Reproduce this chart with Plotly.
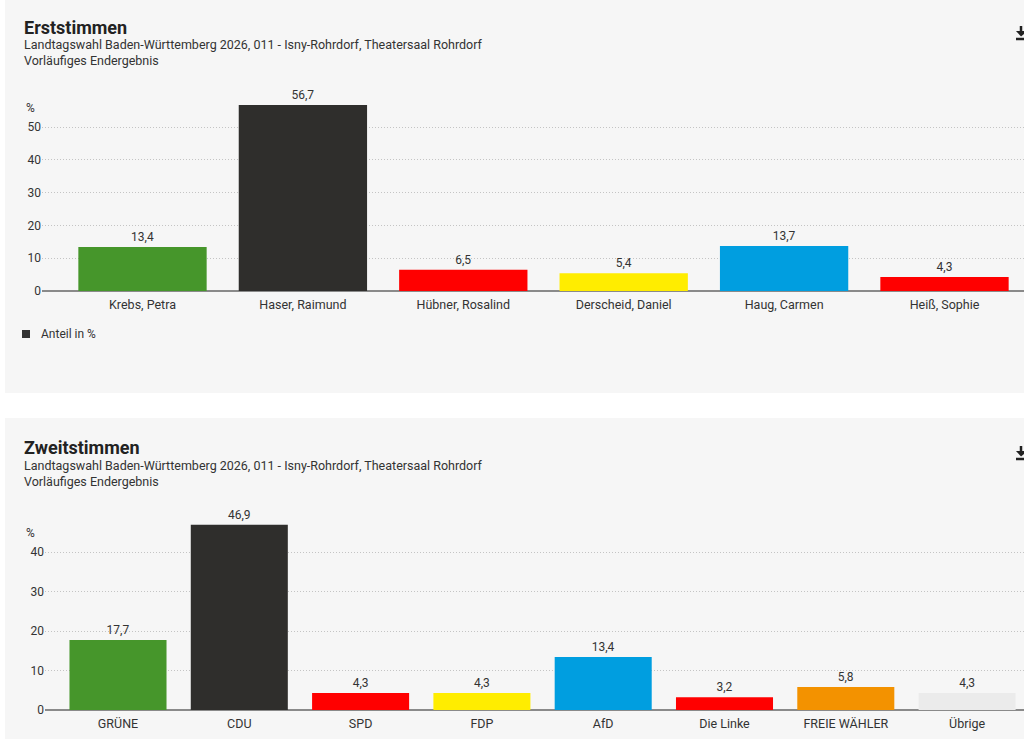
import plotly.graph_objects as go

# Erststimmen
kandidaten = ["Krebs, Petra", "Haser, Raimund", "Hübner, Rosalind", "Derscheid, Daniel", "Haug, Carmen", "Heiß, Sophie"]
erst_werte = [13.4, 56.7, 6.5, 5.4, 13.7, 4.3]
erst_farben = ["#46962b", "#2f2e2c", "#ff0000", "#ffed00", "#009ee0", "#ff0000"]

# Zweitstimmen
parteien = ["GRÜNE", "CDU", "SPD", "FDP", "AfD", "Die Linke", "FREIE WÄHLER", "Übrige"]
zweit_werte = [17.7, 46.9, 4.3, 4.3, 13.4, 3.2, 5.8, 4.3]
zweit_farben = ["#46962b", "#2f2e2c", "#ff0000", "#ffed00", "#009ee0", "#ff0000", "#f39200", "#ebebeb"]

untertitel = "Landtagswahl Baden-Württemberg 2026, 011 - Isny-Rohrdorf, Theatersaal Rohrdorf"
status = "Vorläufiges Endergebnis"

# Koordinaten unten sind Pixel des Screenshots (1024x739); die Figur selbst
# wird so hoch wie der tatsaechliche Viewport gemacht
W, H = 1024, 739
FIG_H = 746
FONT = "Roboto"
CARD = "#f6f6f6"
TXT = "#333333"


def px(x):
    return min(x, W) / W


def py(y):
    return 1 - y / H


def fmt(v):
    return f"{v:.1f}".replace(".", ",")


fig = go.Figure()

fig.add_trace(go.Bar(
    x=list(range(len(kandidaten))), y=erst_werte, name="Anteil in %",
    marker=dict(color=erst_farben, line=dict(width=0)),
    text=[fmt(v) for v in erst_werte], textposition="outside",
    textfont=dict(size=12, color=TXT, family=FONT),
    cliponaxis=False, showlegend=False, hoverinfo="skip",
    xaxis="x", yaxis="y",
))
fig.add_trace(go.Bar(
    x=list(range(len(parteien))), y=zweit_werte, name="Anteil in %",
    marker=dict(color=zweit_farben, line=dict(width=0)),
    text=[fmt(v) for v in zweit_werte], textposition="outside",
    textfont=dict(size=12, color=TXT, family=FONT),
    cliponaxis=False, showlegend=False, hoverinfo="skip",
    xaxis="x2", yaxis="y2",
))

# Achsen: Pixelgeometrie aus dem Screenshot
# Chart 1: Basislinie y=291, 3.28 px je Prozentpunkt, Balkenabstand 160.4 px
b1, s1, yr1 = 291, 3.28, 60
x1l, step1, c1 = 42, 160.4, 142.5
a1 = -(c1 - x1l) / step1
e1 = a1 + (W - x1l) / step1
# Chart 2: Basislinie y=710, 3.95 px je Prozentpunkt, Abstand 121.3 px
b2, s2, yr2 = 710, 3.95, 50
x2l, step2, c2 = 45, 121.3, 118
a2 = -(c2 - x2l) / step2
e2 = a2 + (W - x2l) / step2

achse_y = dict(showgrid=True, gridcolor="#c4c4c4", griddash="1px,2px", gridwidth=1,
               zeroline=True, zerolinecolor="#8a8a8a", zerolinewidth=2,
               showline=False, ticks="", tickfont=dict(size=12, color=TXT, family=FONT),
               fixedrange=True)
achse_x = dict(showgrid=False, zeroline=False, showline=False, ticks="",
               ticklabelstandoff=4,
               tickfont=dict(size=12.5, color=TXT, family=FONT), fixedrange=True)

fig.update_layout(
    width=W, height=FIG_H, margin=dict(l=0, r=0, t=0, b=0),
    paper_bgcolor="white", plot_bgcolor="rgba(0,0,0,0)",
    font=dict(family=FONT, color=TXT),
    bargap=0.2, showlegend=False,
    xaxis=dict(achse_x, domain=[px(x1l), 1], range=[a1, e1], anchor="y",
               tickvals=list(range(len(kandidaten))), ticktext=kandidaten),
    yaxis=dict(achse_y, domain=[py(b1), py(b1 - yr1 * s1)], range=[0, yr1], anchor="x",
               tickvals=[0, 10, 20, 30, 40, 50]),
    xaxis2=dict(achse_x, domain=[px(x2l), 1], range=[a2, e2], anchor="y2",
                tickvals=list(range(len(parteien))), ticktext=parteien),
    yaxis2=dict(achse_y, domain=[py(b2), py(b2 - yr2 * s2)], range=[0, yr2], anchor="x2",
                tickvals=[0, 10, 20, 30, 40]),
)

# Karten-Hintergruende (innerhalb der Papierflaeche halten)
fig.add_shape(type="rect", xref="paper", yref="paper", x0=px(5), x1=1, y0=py(393), y1=1,
              fillcolor=CARD, line=dict(width=0), layer="below")
fig.add_shape(type="rect", xref="paper", yref="paper", x0=px(5), x1=1, y0=0, y1=py(418),
              fillcolor=CARD, line=dict(width=0), layer="below")

# Legende "Anteil in %"
fig.add_shape(type="rect", xref="paper", yref="paper", x0=px(22), x1=px(30), y0=py(338), y1=py(330),
              fillcolor="#333333", line=dict(width=0))
fig.add_annotation(text="Anteil in %", xref="paper", yref="paper", x=px(39), y=py(334),
                   xanchor="left", yanchor="middle", showarrow=False,
                   font=dict(size=12, color=TXT, family=FONT))

# Titel und Untertitel
for titel, y0 in [("Erststimmen", 27), ("Zweitstimmen", 447)]:
    fig.add_annotation(text=f"<b>{titel}</b>", xref="paper", yref="paper", x=px(22), y=py(y0),
                       xanchor="left", yanchor="middle", showarrow=False,
                       font=dict(size=18, color="#222222", family=FONT))
    fig.add_annotation(text=untertitel, xref="paper", yref="paper", x=px(22), y=py(y0 + 18),
                       xanchor="left", yanchor="middle", showarrow=False,
                       font=dict(size=12.5, color=TXT, family=FONT))
    fig.add_annotation(text=status, xref="paper", yref="paper", x=px(22), y=py(y0 + 34),
                       xanchor="left", yanchor="middle", showarrow=False,
                       font=dict(size=12.5, color=TXT, family=FONT))

# "%" ueber der y-Achse
for y0 in [108, 533]:
    fig.add_annotation(text="%", xref="paper", yref="paper", x=px(30), y=py(y0),
                       xanchor="center", yanchor="middle", showarrow=False,
                       font=dict(size=12, color=TXT, family=FONT))

# Download-Symbol, am rechten Rand abgeschnitten
for y0 in [26, 446]:
    fig.add_shape(type="line", xref="paper", yref="paper", x0=px(1021), x1=px(1021),
                  y0=py(y0), y1=py(y0 + 6), line=dict(color="#222222", width=2.5))
    fig.add_shape(type="path", xref="paper", yref="paper",
                  path=(f"M {px(1016)} {py(y0 + 5)} L {px(1024)} {py(y0 + 5)} "
                        f"L {px(1024)} {py(y0 + 8)} L {px(1021)} {py(y0 + 10.5)} Z"),
                  fillcolor="#222222", line=dict(width=0))
    fig.add_shape(type="line", xref="paper", yref="paper", x0=px(1016), x1=px(1024),
                  y0=py(y0 + 13), y1=py(y0 + 13), line=dict(color="#222222", width=2.5))

# Seite ohne Rand und ohne Ueberlauf
seite = (
    "var h=document.documentElement.style, b=document.body.style;"
    "h.margin='0';h.padding='0';h.overflow='hidden';"
    "b.margin='0';b.padding='0';b.overflow='hidden';"
)
fig.write_html("out.html", config={"displayModeBar": False}, post_script=seite)
